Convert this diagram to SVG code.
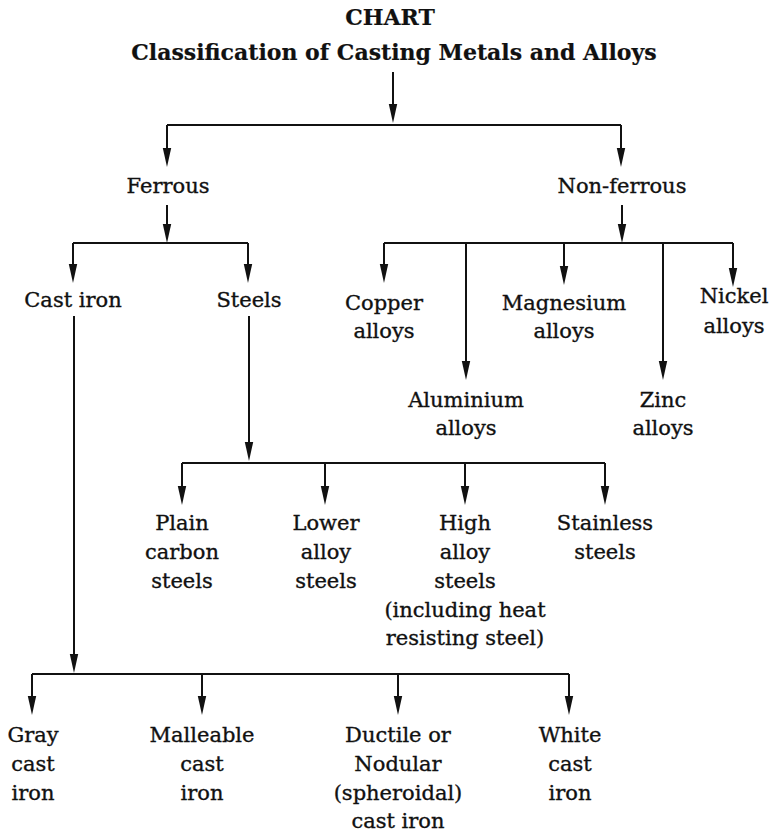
<svg xmlns="http://www.w3.org/2000/svg" width="776" height="834" viewBox="0 0 776 834">
<style>
text{font-family:"DejaVu Serif","Liberation Serif",serif;font-size:21px;fill:#111;stroke:#111;stroke-width:0.35;text-anchor:middle}
.t{font-weight:bold;font-size:22px;stroke-width:0.2}
.c path{stroke:#111;stroke-width:2;fill:none}
.c path.a{marker-end:url(#ah)}
</style>
<defs>
<marker id="ah" markerUnits="userSpaceOnUse" markerWidth="19" markerHeight="10" viewBox="0 0 19 10" refX="13" refY="5" orient="auto">
<path d="M0,0.8 L19,5 L0,9.2 z" fill="#111"/>
</marker>
</defs>
<g id="title">
<text class="t" x="390" y="25">CHART</text>
<text class="t" x="394" y="60">Classification of Casting Metals and Alloys</text>
</g>
<g class="c" id="connectors">
<path class="a" d="M393,72 V117"/>
<path d="M167,125 H621"/>
<path class="a" d="M167,125 V161"/>
<path class="a" d="M621,125 V161"/>
<path class="a" d="M167,205 V237"/>
<path d="M73,243 H248"/>
<path class="a" d="M73,243 V277"/>
<path class="a" d="M248,243 V277"/>
<path class="a" d="M622,205 V237"/>
<path d="M384,243 H733"/>
<path class="a" d="M384,243 V277"/>
<path class="a" d="M466,243 V374"/>
<path class="a" d="M564,243 V279"/>
<path class="a" d="M663,243 V374"/>
<path class="a" d="M733,243 V281"/>
<path class="a" d="M74,316 V667"/>
<path d="M32,674 H569"/>
<path class="a" d="M32,674 V709"/>
<path class="a" d="M202,674 V709"/>
<path class="a" d="M398,674 V709"/>
<path class="a" d="M569,674 V709"/>
<path class="a" d="M249,316 V455"/>
<path d="M182,463 H605"/>
<path class="a" d="M182,463 V499"/>
<path class="a" d="M325,463 V499"/>
<path class="a" d="M465,463 V499"/>
<path class="a" d="M605,463 V499"/>
</g>
<g id="ferrous"><text x="168" y="193">Ferrous</text></g>
<g id="nonferrous"><text x="622" y="193">Non-ferrous</text></g>
<g id="castiron"><text x="73" y="307">Cast iron</text></g>
<g id="steels"><text x="249" y="307">Steels</text></g>
<g id="copper"><text x="384" y="310">Copper</text><text x="384" y="338">alloys</text></g>
<g id="magnesium"><text x="564" y="310">Magnesium</text><text x="564" y="338">alloys</text></g>
<g id="nickel"><text x="734" y="303">Nickel</text><text x="734" y="333">alloys</text></g>
<g id="aluminium"><text x="466" y="407">Aluminium</text><text x="466" y="435">alloys</text></g>
<g id="zinc"><text x="663" y="407">Zinc</text><text x="663" y="435">alloys</text></g>
<g id="plain"><text x="182" y="530">Plain</text><text x="182" y="559">carbon</text><text x="182" y="588">steels</text></g>
<g id="lower"><text x="326" y="530">Lower</text><text x="326" y="559">alloy</text><text x="326" y="588">steels</text></g>
<g id="high"><text x="465" y="530">High</text><text x="465" y="559">alloy</text><text x="465" y="588">steels</text><text x="465" y="617">(including heat</text><text x="465" y="645">resisting steel)</text></g>
<g id="stainless"><text x="605" y="530">Stainless</text><text x="605" y="559">steels</text></g>
<g id="gray"><text x="33" y="742">Gray</text><text x="33" y="771">cast</text><text x="33" y="800">iron</text></g>
<g id="malleable"><text x="202" y="742">Malleable</text><text x="202" y="771">cast</text><text x="202" y="800">iron</text></g>
<g id="ductile"><text x="398" y="742">Ductile or</text><text x="398" y="771">Nodular</text><text x="398" y="800">(spheroidal)</text><text x="398" y="828">cast iron</text></g>
<g id="white"><text x="570" y="742">White</text><text x="570" y="771">cast</text><text x="570" y="800">iron</text></g>
</svg>
